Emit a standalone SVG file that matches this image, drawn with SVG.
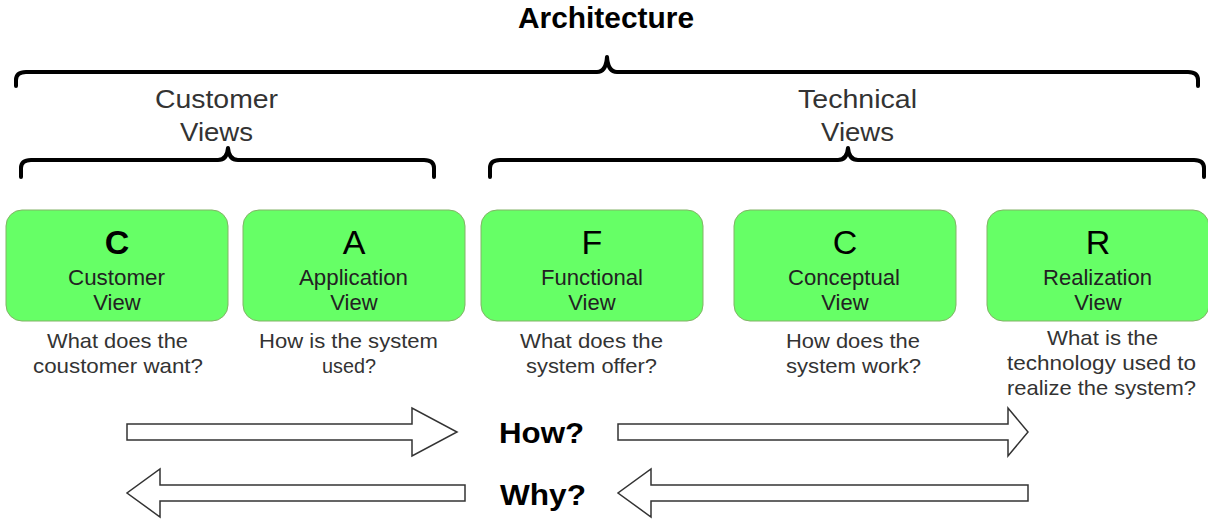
<svg xmlns="http://www.w3.org/2000/svg" width="1208" height="522" viewBox="0 0 1208 522">
  <style>
    .brace { fill: none; stroke: #000; stroke-width: 4; stroke-linecap: round; stroke-linejoin: round; }
    .box { fill: #66ff66; stroke: #82b366; stroke-width: 1; }
    .t { font-family: "Liberation Sans", Arial, sans-serif; text-anchor: middle; }
    .title { font-size: 29px; font-weight: bold; fill: #000; }
    .group { font-size: 26px; fill: #333; }
    .letter { font-size: 34px; fill: #000; }
    .name { font-size: 22px; fill: #222; }
    .q { font-size: 21px; fill: #333; }
    .dir { font-size: 30px; font-weight: bold; fill: #000; }
    .arrow { fill: #fff; stroke: #333; stroke-width: 1.5; stroke-linejoin: miter; }
  </style>

  <rect width="1208" height="522" fill="#fff"/>

  <!-- headings -->
  <text class="t title" x="606" y="28" textLength="176" lengthAdjust="spacingAndGlyphs">Architecture</text>
  <text class="t group" x="216.5" y="108" textLength="123" lengthAdjust="spacingAndGlyphs">Customer</text>
  <text class="t group" x="216.5" y="141" textLength="73" lengthAdjust="spacingAndGlyphs">Views</text>
  <text class="t group" x="857.5" y="108" textLength="119" lengthAdjust="spacingAndGlyphs">Technical</text>
  <text class="t group" x="857.5" y="141" textLength="73" lengthAdjust="spacingAndGlyphs">Views</text>

  <!-- braces -->
  <g id="braces">
    <path class="brace" d="M16,86 L16,80 Q16,72 26,72 L597,72 Q606,72 607,57 Q608,72 617,72 L1188,72 Q1198,72 1198,80 L1198,86"/>
    <path class="brace" d="M21,177 L21,168 Q21,160 31,160 L218,160 Q227,160 228,148 Q229,160 238,160 L424,160 Q434,160 434,168 L434,177"/>
    <path class="brace" d="M490,177 L490,168 Q490,160 500,160 L838,160 Q847,160 848,148 Q849,160 858,160 L1194,160 Q1204,160 1204,168 L1204,177"/>
  </g>

  <!-- view nodes -->
  <g id="customer-view">
    <rect class="box" x="6" y="210" width="222" height="111" rx="16"/>
    <text class="t letter" x="117" y="254" font-weight="bold">C</text>
    <text class="t name" x="116.5" y="285" textLength="97" lengthAdjust="spacingAndGlyphs">Customer</text>
    <text class="t name" x="117" y="310">View</text>
    <text class="t q" x="117.5" y="348" textLength="141" lengthAdjust="spacingAndGlyphs">What does the</text>
    <text class="t q" x="118" y="373" textLength="170" lengthAdjust="spacingAndGlyphs">coustomer want?</text>
  </g>
  <g id="application-view">
    <rect class="box" x="243" y="210" width="222" height="111" rx="16"/>
    <text class="t letter" x="354" y="254">A</text>
    <text class="t name" x="353.5" y="285" textLength="109" lengthAdjust="spacingAndGlyphs">Application</text>
    <text class="t name" x="354" y="310">View</text>
    <text class="t q" x="348.5" y="348" textLength="179" lengthAdjust="spacingAndGlyphs">How is the system</text>
    <text class="t q" x="349" y="373" textLength="54" lengthAdjust="spacingAndGlyphs">used?</text>
  </g>
  <g id="functional-view">
    <rect class="box" x="481" y="210" width="222" height="111" rx="16"/>
    <text class="t letter" x="592" y="254">F</text>
    <text class="t name" x="592" y="285" textLength="102" lengthAdjust="spacingAndGlyphs">Functional</text>
    <text class="t name" x="592" y="310">View</text>
    <text class="t q" x="591.5" y="348" textLength="143" lengthAdjust="spacingAndGlyphs">What does the</text>
    <text class="t q" x="591.5" y="373" textLength="131" lengthAdjust="spacingAndGlyphs">system offer?</text>
  </g>
  <g id="conceptual-view">
    <rect class="box" x="734" y="210" width="222" height="111" rx="16"/>
    <text class="t letter" x="845" y="254">C</text>
    <text class="t name" x="844" y="285" textLength="112" lengthAdjust="spacingAndGlyphs">Conceptual</text>
    <text class="t name" x="845" y="310">View</text>
    <text class="t q" x="853" y="348" textLength="134" lengthAdjust="spacingAndGlyphs">How does the</text>
    <text class="t q" x="853.5" y="373" textLength="135" lengthAdjust="spacingAndGlyphs">system work?</text>
  </g>
  <g id="realization-view">
    <rect class="box" x="987" y="210" width="222" height="111" rx="16"/>
    <text class="t letter" x="1098" y="254">R</text>
    <text class="t name" x="1097.5" y="285" textLength="109" lengthAdjust="spacingAndGlyphs">Realization</text>
    <text class="t name" x="1098" y="310">View</text>
    <text class="t q" x="1102.5" y="345" textLength="111" lengthAdjust="spacingAndGlyphs">What is the</text>
    <text class="t q" x="1101.5" y="370" textLength="189" lengthAdjust="spacingAndGlyphs">technology used to</text>
    <text class="t q" x="1101.5" y="395" textLength="189" lengthAdjust="spacingAndGlyphs">realize the system?</text>
  </g>

  <!-- how / why flow arrows -->
  <g id="connectors">
    <path class="arrow" d="M127,424 L412,424 L412,408 L457,432 L412,456 L412,440 L127,440 Z"/>
    <path class="arrow" d="M618,424 L1008,424 L1008,408 L1028,432 L1008,456 L1008,440 L618,440 Z"/>
    <path class="arrow" d="M465,485 L160,485 L160,469 L127,493 L160,517 L160,501 L465,501 Z"/>
    <path class="arrow" d="M1028,485 L651,485 L651,469 L618,493 L651,517 L651,501 L1028,501 Z"/>
  </g>
  <text class="t dir" x="541.5" y="443" textLength="85" lengthAdjust="spacingAndGlyphs">How?</text>
  <text class="t dir" x="543" y="505" textLength="86" lengthAdjust="spacingAndGlyphs">Why?</text>
</svg>
